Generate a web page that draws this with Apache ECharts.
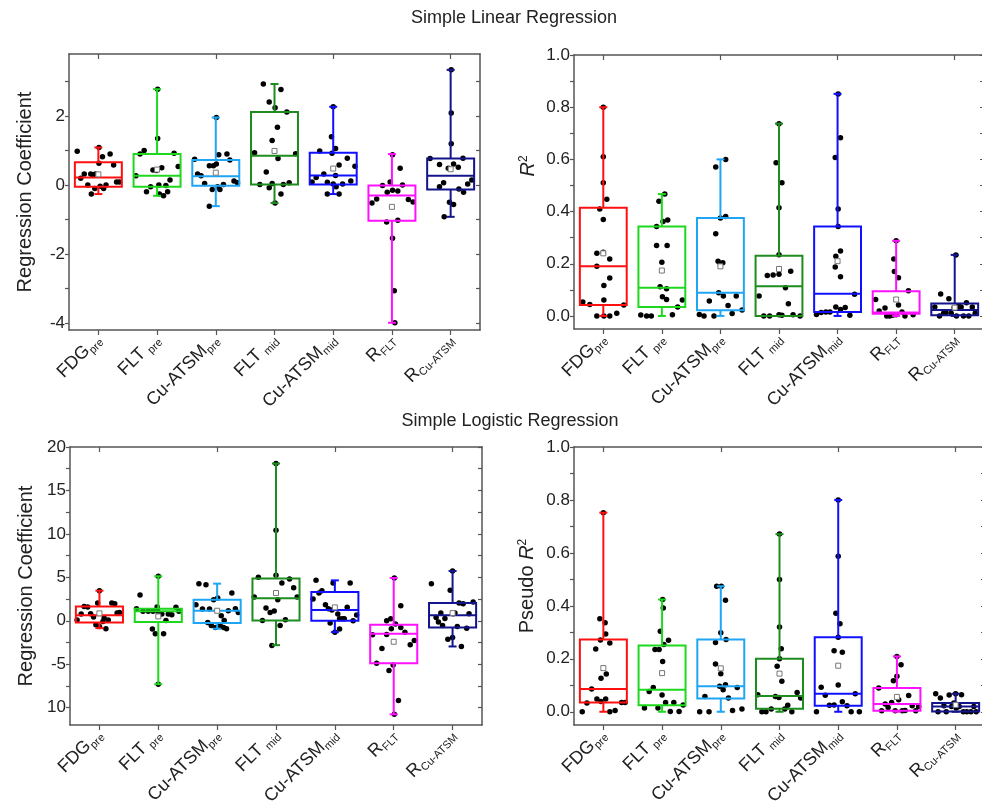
<!DOCTYPE html>
<html><head><meta charset="utf-8">
<script src="https://cdn.jsdelivr.net/npm/echarts@6/dist/echarts.min.js"></script>
<style>html,body{margin:0;padding:0;background:#fff}#chart{width:982px;height:804px}</style>
</head><body><div id="chart"></div>
<script>
// ---------- categories & colours ----------
const categories = [['FDG','pre'],['FLT','pre'],['Cu-ATSM','pre'],['FLT','mid'],['Cu-ATSM','mid'],['R','FLT'],['R','Cu-ATSM']];
const boxColors = ['#ff1010','#1ed81e','#1ea6f5','#1e8c1e','#1010ff','#ff10ff','#14148c'];

// ---------- Simple linear regression: regression coefficient ----------
const linCoefLow  = [-0.26,-0.31,-0.61,-0.52,-0.26,-3.99,-0.92];
const linCoefQ1   = [-0.05,-0.05,-0.02, 0.02, 0.02,-1.03,-0.13];
const linCoefMed  = [ 0.22, 0.27, 0.26, 0.85, 0.28,-0.30, 0.27];
const linCoefQ3   = [ 0.66, 0.90, 0.73, 2.12, 0.94,-0.01, 0.77];
const linCoefHigh = [ 1.09, 2.78, 1.96, 2.93, 2.27, 0.90, 3.34];
const linCoefMean = [ 0.31, 0.45, 0.36, 0.99, 0.48,-0.63, 0.46];
const linCoefPoints = [
 [0.98,0.20,0.32,0.00,0.32,0.29,0.32,-0.26,-0.10,0.63,-0.03,0.82,-0.10,0.00,0.90,0.58,0.09,0.09,1.09],
 [0.27,0.90,1.00,-0.19,-0.05,0.44,0.42,1.35,0.00,-0.26,0.50,-0.31,-0.01,-0.19,0.15,0.92,0.54,2.78],
 [0.75,0.32,0.27,0.05,-0.61,0.56,-0.13,0.56,0.61,0.88,-0.05,-0.13,0.02,0.90,0.73,0.12,0.07,1.96],
 [0.94,0.02,0.38,2.93,2.41,-0.08,0.05,1.29,2.24,-0.52,0.77,1.68,2.77,0.02,-0.26,2.12,0.07,0.91],
 [0.09,0.22,0.99,0.32,0.08,-0.26,1.40,0.92,0.03,1.06,-0.05,0.28,0.58,-0.26,0.03,0.78,0.12,0.55,2.27],
 [-0.52,-0.40,-0.01,-1.07,-0.21,0.09,-0.15,-1.54,-3.06,0.88,-3.99,-0.17,-1.02,0.49,0.00,-0.42,-0.49],
 [0.77,0.60,-0.05,0.07,-0.92,0.49,-0.50,2.09,1.20,0.61,-0.56,0.52,-0.11,0.78,-0.21,0.03,0.15,3.34]
];
const linCoefJitter = [
 [-0.36,-0.30,-0.24,-0.18,-0.13,-0.09,-0.05,-0.12,-0.06,0.01,0.03,0.07,0.09,0.13,0.20,0.26,0.31,0.36,0.01],
 [-0.36,-0.29,-0.22,-0.18,-0.11,-0.07,-0.01,0.01,0.03,0.04,0.08,0.11,0.15,0.18,0.22,0.29,0.36,0.01],
 [-0.36,-0.31,-0.25,-0.19,-0.11,-0.11,-0.06,-0.04,0.01,0.05,0.03,0.07,0.13,0.19,0.24,0.31,0.37,0.01],
 [-0.34,-0.25,-0.14,-0.19,-0.09,-0.09,-0.04,-0.04,0.01,0.01,0.06,0.05,0.11,0.15,0.11,0.21,0.25,0.36],
 [-0.36,-0.29,-0.23,-0.16,-0.10,-0.10,-0.03,-0.02,0.00,0.04,0.05,0.04,0.10,0.10,0.16,0.24,0.30,0.37,0.00],
 [-0.34,-0.26,-0.16,-0.09,-0.08,-0.03,0.01,0.01,0.04,0.01,0.05,0.10,0.10,0.14,0.18,0.28,0.36],
 [-0.35,-0.19,-0.19,-0.12,-0.11,-0.04,-0.02,0.01,0.01,0.05,0.05,0.13,0.14,0.21,0.22,0.29,0.36,0.01]
];
const linCoefTicks = [-4,-2,0,2];
const linCoefTickLabels = ['-4','-2','0','2'];
const linCoefMinor = [-3,-1,1,3];

// ---------- Simple linear regression: R^2 ----------
const r2Low  = [0,0,0,0,0,0,0];
const r2Q1   = [0.042,0.034,0.022,0.000,0.015,0.008,0.003];
const r2Med  = [0.190,0.108,0.089,0.114,0.085,0.013,0.023];
const r2Q3   = [0.415,0.343,0.375,0.231,0.343,0.095,0.048];
const r2High = [0.800,0.467,0.600,0.737,0.851,0.288,0.234];
const r2Mean = [0.240,0.174,0.190,0.180,0.210,0.063,0.032];
const r2Points = [
 [0.053,0.044,0.000,0.190,0.410,0.240,0.610,0.510,0.370,0.244,0.117,0.061,0.000,0.447,0.218,0.000,0.145,0.010,0.042,0.800],
 [0.004,0.000,0.000,0.343,0.270,0.440,0.112,0.206,0.074,0.362,0.467,0.104,0.063,0.368,0.270,0.005,0.034,0.061],
 [0.006,0.000,0.057,0.000,0.315,0.571,0.210,0.089,0.375,0.197,0.204,0.076,0.381,0.600,0.040,0.009,0.076,0.023],
 [0.076,0.000,0.000,0.155,0.157,0.587,0.005,0.160,0.415,0.235,0.510,0.108,0.003,0.047,0.171,0.005,0.000,0.737],
 [0.006,0.013,0.015,0.015,0.607,0.683,0.410,0.343,0.229,0.249,0.188,0.150,0.034,0.025,0.032,0.003,0.083,0.851],
 [0.063,0.019,0.030,0.000,0.000,0.003,0.218,0.170,0.005,0.146,0.042,0.015,0.000,0.097,0.005,0.288],
 [0.034,0.000,0.084,0.010,0.013,0.066,0.010,0.032,0.000,0.038,0.033,0.034,0.000,0.051,0.000,0.034,0.010,0.234]
];
const r2Jitter = [
 [-0.35,-0.23,-0.11,-0.11,-0.06,-0.11,0,0,0,0,0.01,0.01,0.01,0.06,0.11,0.11,0.11,0.23,0.35,0],
 [-0.36,-0.26,-0.18,-0.09,-0.09,-0.05,-0.03,0,0.01,0.02,0.05,0.08,0.08,0.10,0.09,0.18,0.27,0.35],
 [-0.36,-0.28,-0.19,-0.11,-0.08,-0.08,-0.04,-0.03,0,0,0.04,0.05,0.09,0.09,0.13,0.20,0.27,0.37],
 [-0.34,-0.26,-0.16,-0.20,-0.10,-0.05,0,0,0,0,0.05,0.11,0.05,0.16,0.20,0.24,0.36,0],
 [-0.36,-0.28,-0.20,-0.13,-0.04,0.05,0.01,0.01,-0.03,0.05,-0.04,0.05,-0.03,0.05,0.13,0.21,0.29,0.01],
 [-0.35,-0.29,-0.19,-0.16,-0.11,-0.06,-0.04,-0.03,0,0.04,0.04,0.10,0.15,0.21,0.29,0],
 [-0.34,-0.26,-0.24,-0.19,-0.15,-0.10,-0.06,-0.01,0.03,0.06,0.09,0.11,0.15,0.20,0.24,0.30,0.35,0.02]
];
const r2Ticks = [0,0.2,0.4,0.6,0.8,1.0];
const r2TickLabels = ['0.0','0.2','0.4','0.6','0.8','1.0'];
const r2Minor = [0.1,0.3,0.5,0.7,0.9];

// ---------- Simple logistic regression: regression coefficient ----------
const logCoefLow  = [-0.85,-7.30,-0.92,-2.81,-1.31,-10.77,-2.96];
const logCoefQ1   = [-0.19,-0.15,-0.27, 0.04, 0.00,-4.88,-0.77];
const logCoefMed  = [ 0.62, 1.08, 1.15, 2.58, 1.23,-1.50, 0.62];
const logCoefQ3   = [ 1.65, 1.38, 2.42, 4.85, 3.31,-0.46, 2.04];
const logCoefHigh = [ 3.46, 5.12, 4.27,18.10, 4.65, 4.92, 5.73];
const logCoefMean = [ 0.85, 0.50, 1.15, 3.19, 1.54,-2.42, 0.88];
const logCoefPoints = [
 [0.08,0.77,1.65,1.58,0.81,0.42,-0.46,2.04,-0.65,-0.08,0.31,-0.92,0.08,2.04,1.96,0.88,0.96,3.46],
 [1.38,2.96,1.08,1.08,-0.96,1.08,-1.50,1.58,1.08,0.77,-1.50,0.04,0.77,0.69,1.54,1.08,5.12,-7.30],
 [1.85,4.27,1.35,4.15,-0.19,1.35,-0.54,2.42,-0.77,2.62,-0.54,0.58,-0.77,0.04,-0.92,1.15,3.19,1.38,0.96],
 [2.73,5.00,0.04,1.46,0.96,-2.85,1.12,10.42,5.23,2.42,-0.54,4.35,0.12,4.81,3.81,2.73,18.10],
 [2.50,4.65,3.19,3.46,1.85,1.38,-0.27,1.23,4.35,0.77,0.23,-0.96,0.23,0.23,1.54,4.35,0.00,0.65,-1.31],
 [-1.62,-4.88,-3.19,0.00,-1.58,0.23,-0.92,-5.73,-5.08,-0.38,-9.19,1.73,-0.77,-1.31,-2.77,-2.27,4.92,-10.77],
 [4.27,0.38,-0.15,0.88,-0.54,0.27,-2.12,3.50,-1.92,0.81,0.88,-0.65,2.04,-2.96,1.96,-0.85,0.81,2.15,5.73]
];
const logCoefJitter = [
 [-0.38,-0.31,-0.26,-0.20,-0.15,-0.10,-0.06,-0.03,0,0.06,0.08,0.11,0.15,0.21,0.26,0.30,0.34,0],
 [-0.37,-0.31,-0.26,-0.17,-0.10,-0.09,-0.05,-0.02,-0.01,0.06,0.09,0.13,0.17,0.23,0.30,0.35,0,0],
 [-0.36,-0.31,-0.25,-0.19,-0.16,-0.13,-0.10,-0.06,-0.03,0.01,0.05,0.07,0.11,0.12,0.16,0.19,0.25,0.31,0.36],
 [-0.37,-0.30,-0.23,-0.17,-0.10,-0.07,-0.03,0,0,0.03,0.07,0.10,0.16,0.23,0.30,0.36,0],
 [-0.37,-0.32,-0.27,-0.22,-0.16,-0.11,-0.08,-0.05,-0.03,0.05,0.08,0.08,0.13,0.16,0.21,0.26,0.31,0.37,0],
 [-0.36,-0.29,-0.20,-0.12,-0.12,-0.05,-0.04,-0.08,-0.01,0.03,0.08,0.12,0.12,0.19,0.28,0.35,0.01,0.01],
 [-0.36,-0.28,-0.24,-0.20,-0.17,-0.13,-0.08,-0.04,0,0.01,0.04,0.08,0.11,0.15,0.18,0.24,0.28,0.35,0]
];
const logCoefTicks = [-10,-5,0,5,10,15,20];
const logCoefTickLabels = ['10','-5','0','5','10','15','20'];
const logCoefMinor = [-7.5,-2.5,2.5,7.5,12.5,17.5];

// ---------- Simple logistic regression: pseudo R^2 ----------
const pseudoLow  = [0,0,0,0,0,0,0];
const pseudoQ1   = [0.035,0.025,0.050,0.011,0.023,0.004,0.001];
const pseudoMed  = [0.086,0.083,0.096,0.060,0.068,0.029,0.020];
const pseudoQ3   = [0.273,0.250,0.273,0.200,0.281,0.090,0.033];
const pseudoHigh = [0.752,0.424,0.474,0.671,0.800,0.209,0.068];
const pseudoMean = [0.165,0.146,0.164,0.144,0.174,0.056,0.026];
const pseudoPoints = [
 [0.000,0.033,0.086,0.237,0.048,0.351,0.271,0.039,0.127,0.336,0.294,0.143,0.048,0.260,0.000,0.005,0.035,0.035,0.752],
 [0.014,0.077,0.092,0.235,0.014,0.235,0.304,0.063,0.190,0.392,0.254,0.035,0.270,0.001,0.035,0.001,0.026,0.424],
 [0.000,0.058,0.000,0.474,0.180,0.262,0.096,0.144,0.298,0.083,0.421,0.102,0.273,0.052,0.005,0.092,0.010,0.474],
 [0.064,0.000,0.000,0.010,0.058,0.172,0.054,0.500,0.320,0.200,0.238,0.115,0.010,0.025,0.000,0.073,0.052,0.671],
 [0.000,0.093,0.062,0.025,0.230,0.026,0.372,0.587,0.281,0.101,0.332,0.225,0.038,0.023,0.000,0.068,0.000,0.800],
 [0.090,0.004,0.029,0.016,0.035,0.117,0.004,0.134,0.045,0.178,0.004,0.005,0.061,0.023,0.004,0.020,0.209],
 [0.068,0.000,0.052,0.023,0.000,0.063,0.020,0.033,0.014,0.020,0.064,0.000,0.000,0.000,0.020,0.000,0.068]
];
const pseudoJitter = [
 [-0.36,-0.28,-0.20,-0.13,-0.11,-0.06,-0.05,-0.04,-0.04,0.03,0.04,0.05,0.04,0.11,0.11,0.20,0.31,0.37,0],
 [-0.30,-0.22,-0.15,-0.12,-0.07,-0.05,-0.03,0,0.01,0.02,0.03,0.06,0.11,0.14,0.20,0.29,0.36,0.01],
 [-0.36,-0.27,-0.20,-0.07,-0.09,-0.09,-0.02,0,0,0.04,0.08,0.08,0.09,0.13,0.20,0.28,0.36,0.01],
 [-0.37,-0.30,-0.23,-0.14,-0.07,-0.04,-0.01,0,0,0,0.03,0.04,0.09,0.14,0.21,0.30,0.36,0],
 [-0.37,-0.29,-0.22,-0.15,-0.07,-0.07,-0.04,0,0,0,0.03,0.07,0.07,0.15,0.22,0.29,0.36,0],
 [-0.31,-0.26,-0.20,-0.15,-0.09,-0.06,-0.03,0,0.03,0.07,0.09,0.14,0.20,0.26,0.32,0.37,0],
 [-0.34,-0.30,-0.26,-0.20,-0.16,-0.11,-0.07,-0.03,0.01,0.06,0.10,0.13,0.19,0.26,0.31,0.35,0]
];
const pseudoTicks = r2Ticks, pseudoTickLabels = r2TickLabels, pseudoMinor = r2Minor;

// ---------- build options ----------
const FONT = '"Liberation Sans", Arial, Helvetica, sans-serif';
const AXIS_COLOR = '#555';
const TEXT_COLOR = '#222';

const panels = [
 {low:linCoefLow,q1:linCoefQ1,med:linCoefMed,q3:linCoefQ3,high:linCoefHigh,mean:linCoefMean,pts:linCoefPoints,jit:linCoefJitter,
  min:-4.2,max:3.8,ticks:linCoefTicks,labels:linCoefTickLabels,minor:linCoefMinor,
  name:'Regression Coefficient', grid:{left:69,top:54,width:411,height:276}, nameGap:34},
 {low:r2Low,q1:r2Q1,med:r2Med,q3:r2Q3,high:r2High,mean:r2Mean,pts:r2Points,jit:r2Jitter,
  min:-0.05,max:1.0,ticks:r2Ticks,labels:r2TickLabels,minor:r2Minor,
  name:'{i|R}{s|2}', grid:{left:574,top:55,width:410,height:274}, nameGap:36, namePad:[0,0,0,52]},
 {low:logCoefLow,q1:logCoefQ1,med:logCoefMed,q3:logCoefQ3,high:logCoefHigh,mean:logCoefMean,pts:logCoefPoints,jit:logCoefJitter,
  min:-12,max:20,ticks:logCoefTicks,labels:logCoefTickLabels,minor:logCoefMinor,
  name:'Regression Coefficient', grid:{left:70,top:447,width:412,height:278}, nameGap:34},
 {low:pseudoLow,q1:pseudoQ1,med:pseudoMed,q3:pseudoQ3,high:pseudoHigh,mean:pseudoMean,pts:pseudoPoints,jit:pseudoJitter,
  min:-0.05,max:1.0,ticks:pseudoTicks,labels:pseudoTickLabels,minor:pseudoMinor,
  name:'{n|Pseudo }{i|R}{s|2}', grid:{left:574,top:447,width:411,height:278}, nameGap:37}
];

const catNames = categories.map(c => c[0] + c[1]);
function catLabel(val, idx) {
  const c = categories[idx];
  return '{m|' + c[0] + '}{' + (c[0] === 'FLT' ? 'sg' : 's') + '|' + c[1] + '}';
}

const grids = [], xAxes = [], yAxes = [], series = [];
panels.forEach((p, g) => {
  grids.push(Object.assign({outerBoundsMode:'none', containLabel:false}, p.grid));
  const lineStyle = {color: AXIS_COLOR, width: 1.5};
  xAxes.push({
    gridIndex:g, type:'category', data:catNames, position:'bottom',
    axisLine:{show:true, lineStyle, onZero:false},
    axisTick:{show:true, alignWithLabel:true, inside:false, length:5, lineStyle:{color:AXIS_COLOR,width:1.2}},
    axisLabel:{interval:0, rotate:45, margin:7, formatter:catLabel, color:TEXT_COLOR,
      rich:{m:{fontSize:18, lineHeight:22, fontFamily:FONT, color:TEXT_COLOR},
            s:{fontSize:11, lineHeight:11, verticalAlign:'bottom', fontFamily:FONT, color:TEXT_COLOR},
            sg:{fontSize:11, lineHeight:11, verticalAlign:'bottom', padding:[0,0,0,4], fontFamily:FONT, color:TEXT_COLOR}}},
    splitLine:{show:false}
  });
  xAxes.push({
    gridIndex:g, type:'category', data:catNames, position:'top',
    axisLine:{show:true, lineStyle, onZero:false},
    axisTick:{show:true, alignWithLabel:true, inside:true, length:5, lineStyle:{color:AXIS_COLOR,width:1.2}},
    axisLabel:{show:false}, splitLine:{show:false}
  });
  xAxes.push({gridIndex:g, type:'value', min:-0.5, max:6.5, show:false});
  const tickVals = p.ticks.concat(p.minor).sort((a,b)=>a-b);
  yAxes.push({
    gridIndex:g, type:'value', min:p.min, max:p.max, position:'left',
    axisLine:{show:true, lineStyle, onZero:false},
    axisTick:{show:true, inside:false, length:4, customValues:tickVals, lineStyle:{color:AXIS_COLOR,width:1.2}},
    axisLabel:{customValues:p.ticks, margin:4, fontSize:17, fontFamily:FONT, color:TEXT_COLOR,
      formatter: v => { const k = p.ticks.findIndex(t => Math.abs(t - v) < 1e-9); return k >= 0 ? p.labels[k] : ''; }},
    splitLine:{show:false},
    name:p.name, nameLocation:'middle', nameRotate:90, nameGap:p.nameGap, nameMoveOverlap:false,
    nameTextStyle:{fontSize:20, fontFamily:FONT, color:'#222', padding:p.namePad || 0,
      rich:{n:{fontSize:20, fontFamily:FONT, color:'#222'},
            i:{fontSize:20, fontStyle:'italic', fontFamily:FONT, color:'#222'},
            s:{fontSize:12, verticalAlign:'top', fontFamily:FONT, color:'#222'}}}
  });
  yAxes.push({
    gridIndex:g, type:'value', min:p.min, max:p.max, position:'right',
    axisLine:{show:true, lineStyle, onZero:false},
    axisTick:{show:true, inside:true, length:4, customValues:tickVals, lineStyle:{color:AXIS_COLOR,width:1.2}},
    axisLabel:{show:false}, splitLine:{show:false}
  });

  // jittered raw points
  const ptData = [];
  p.pts.forEach((arr, i) => arr.forEach((v, k) => ptData.push([i + p.jit[i][k], v])));
  series.push({
    type:'scatter', xAxisIndex:3*g+2, yAxisIndex:2*g, data:ptData, symbol:'circle', symbolSize:5.5,
    itemStyle:{color:'#000', opacity:1}, z:2, silent:true
  });

  // boxes
  const boxData = categories.map((c, i) => [i, p.low[i], p.q1[i], p.med[i], p.q3[i], p.high[i]]);
  series.push({
    type:'custom', xAxisIndex:3*g, yAxisIndex:2*g, data:boxData, z:3, silent:true,
    encode:{x:0, y:[1,2,3,4,5]},
    renderItem:(params, api) => {
      const i = api.value(0);
      const yL = api.coord([i, api.value(1)])[1];
      const yQ1 = api.coord([i, api.value(2)])[1];
      const yM = api.coord([i, api.value(3)])[1];
      const yQ3 = api.coord([i, api.value(4)])[1];
      const yH = api.coord([i, api.value(5)])[1];
      const xc = api.coord([i, api.value(3)])[0];
      const hw = api.size([1, 0])[0] * 0.4;
      const cap = 4;
      const col = boxColors[i];
      const st = {stroke:col, lineWidth:2, fill:'none'};
      return {type:'group', children:[
        {type:'line', shape:{x1:xc,y1:yQ3,x2:xc,y2:yH}, style:st},
        {type:'line', shape:{x1:xc,y1:yQ1,x2:xc,y2:yL}, style:st},
        {type:'line', shape:{x1:xc-cap,y1:yH,x2:xc+cap,y2:yH}, style:st},
        {type:'line', shape:{x1:xc-cap,y1:yL,x2:xc+cap,y2:yL}, style:st},
        {type:'rect', shape:{x:xc-hw,y:yQ3,width:2*hw,height:yQ1-yQ3}, style:st},
        {type:'line', shape:{x1:xc-hw,y1:yM,x2:xc+hw,y2:yM}, style:st}
      ]};
    }
  });

  // means
  series.push({
    type:'scatter', xAxisIndex:3*g, yAxisIndex:2*g, data:p.mean.map((m, i) => [i, m]),
    symbol:'rect', symbolSize:5, itemStyle:{color:'#fff', borderColor:'#777', borderWidth:1, opacity:1}, z:4, silent:true
  });
});

const chart = echarts.init(document.getElementById('chart'), null, {renderer:'canvas'});
chart.setOption({
  animation:false,
  backgroundColor:'#fff',
  textStyle:{fontFamily:FONT},
  title:[
    {text:'Simple Linear Regression', left:509, top:4, textAlign:'center',
     textStyle:{fontSize:18, fontWeight:'normal', color:'#222', fontFamily:FONT}},
    {text:'Simple Logistic Regression', left:505, top:407, textAlign:'center',
     textStyle:{fontSize:18, fontWeight:'normal', color:'#222', fontFamily:FONT}}
  ],
  grid:grids, xAxis:xAxes, yAxis:yAxes, series
});
</script></body></html>
